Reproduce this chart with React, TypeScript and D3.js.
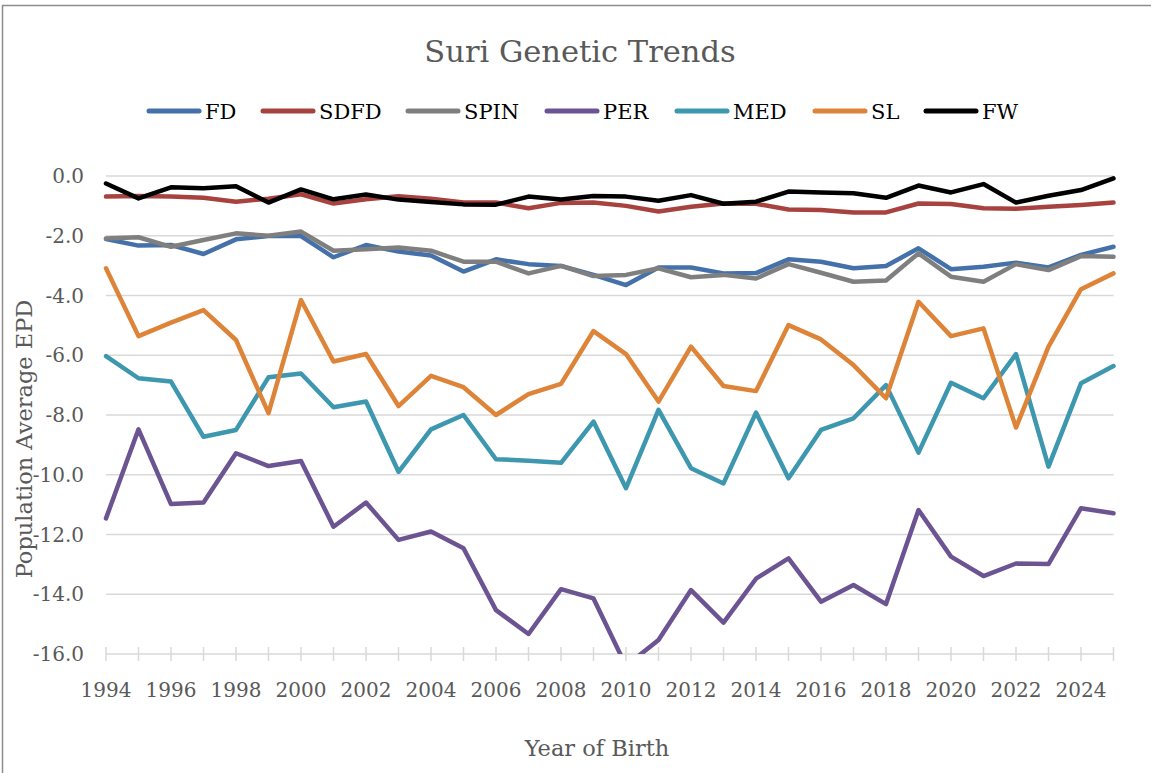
import React from "react";
import * as d3 from "d3";

const years = d3.range(1994, 2026);
const seriesNames = ["FD", "SDFD", "SPIN", "PER", "MED", "SL", "FW"];
const colors = ["#4471A9", "#A8423F", "#7F7F7F", "#6B5491", "#3D97AF", "#DD8438", "#000000"];

const FD = [-2.11, -2.33, -2.31, -2.61, -2.12, -2.01, -2.01, -2.72, -2.31, -2.53, -2.66, -3.2, -2.79, -2.95, -3.01, -3.31, -3.65, -3.06, -3.06, -3.26, -3.25, -2.79, -2.87, -3.09, -3.01, -2.42, -3.12, -3.04, -2.9, -3.06, -2.64, -2.37];
const SDFD = [-0.69, -0.67, -0.69, -0.73, -0.86, -0.76, -0.61, -0.92, -0.78, -0.68, -0.76, -0.89, -0.89, -1.08, -0.9, -0.89, -1.0, -1.19, -1.03, -0.92, -0.93, -1.12, -1.14, -1.22, -1.22, -0.92, -0.94, -1.08, -1.1, -1.03, -0.97, -0.89];
const SPIN = [-2.09, -2.05, -2.37, -2.14, -1.92, -2.0, -1.86, -2.5, -2.45, -2.39, -2.5, -2.87, -2.87, -3.26, -3.01, -3.35, -3.31, -3.09, -3.39, -3.31, -3.43, -2.95, -3.24, -3.54, -3.5, -2.59, -3.37, -3.54, -2.95, -3.15, -2.68, -2.7];
const PER = [-11.46, -8.48, -10.98, -10.93, -9.28, -9.71, -9.54, -11.74, -10.93, -12.18, -11.9, -12.46, -14.53, -15.33, -13.83, -14.14, -16.4, -15.53, -13.86, -14.95, -13.48, -12.8, -14.25, -13.69, -14.33, -11.18, -12.74, -13.39, -12.97, -12.99, -11.12, -11.29];
const MED = [-6.03, -6.77, -6.88, -8.73, -8.5, -6.74, -6.61, -7.74, -7.55, -9.9, -8.48, -8.0, -9.48, -9.53, -9.6, -8.22, -10.45, -7.83, -9.78, -10.29, -7.92, -10.12, -8.5, -8.11, -7.0, -9.26, -6.92, -7.44, -5.96, -9.73, -6.94, -6.36];
const SL = [-3.09, -5.36, -4.91, -4.49, -5.49, -7.94, -4.15, -6.21, -5.96, -7.7, -6.69, -7.07, -8.0, -7.3, -6.96, -5.19, -5.96, -7.55, -5.71, -7.03, -7.2, -4.99, -5.47, -6.33, -7.44, -4.21, -5.36, -5.1, -8.42, -5.71, -3.79, -3.26];
const FW = [-0.25, -0.75, -0.38, -0.41, -0.34, -0.89, -0.45, -0.78, -0.62, -0.79, -0.87, -0.95, -0.96, -0.69, -0.79, -0.67, -0.69, -0.83, -0.64, -0.93, -0.86, -0.52, -0.55, -0.58, -0.73, -0.32, -0.55, -0.27, -0.89, -0.66, -0.47, -0.08];

const seriesValues = [FD, SDFD, SPIN, PER, MED, SL, FW];
const yTicks = [0, -2, -4, -6, -8, -10, -12, -14, -16];
const xLabelYears = years.filter((y) => (y - 1994) % 2 === 0);

const W = 1151;
const H = 773;
const left = 106;
const right = 1113.5;
const top = 176;
const bottom = 654;
const FONT = "'DejaVu Serif', serif";
const TEXT = "#595959";

export default function App() {
  const x = d3.scaleLinear().domain([1994, 2025]).range([left, right]);
  const y = d3.scaleLinear().domain([-16, 0]).range([bottom, top]);
  const line = d3
    .line<number>()
    .x((_, i) => x(years[i]))
    .y((d) => y(d));

  const legendX = [147, 261, 406, 545, 675, 813, 924];

  return (
    <svg width={W} height={H} style={{ position: "absolute", left: 0, top: 0 }}>
      <rect x={0} y={0} width={W} height={H} fill="#fff" />
      <rect x={2.5} y={5.5} width={1170} height={800} fill="none" stroke="#8c8c8c" strokeWidth={1.5} />
      <defs>
        <clipPath id="plotclip">
          <rect x={left - 10} y={top - 10} width={right - left + 20} height={bottom - top + 10} />
        </clipPath>
      </defs>
      <text x={580} y={62} textAnchor="middle" fontFamily={FONT} fontSize={30.5} fill={TEXT}>
        Suri Genetic Trends
      </text>
      {seriesNames.map((n, i) => (
        <g key={n}>
          <line x1={legendX[i] + 2} x2={legendX[i] + 52} y1={111} y2={111} stroke={colors[i]} strokeWidth={5} strokeLinecap="round" />
          <text x={legendX[i] + 58} y={119} fontFamily={FONT} fontSize={21} fill="#000">
            {n}
          </text>
        </g>
      ))}
      {yTicks.map((t) => (
        <g key={t}>
          <line x1={left} x2={right} y1={y(t)} y2={y(t)} stroke="#d9d9d9" strokeWidth={1.5} />
          <text x={84} y={y(t) + 7} textAnchor="end" fontFamily={FONT} fontSize={20} fill={TEXT}>
            {t.toFixed(1)}
          </text>
        </g>
      ))}
      {years.map((yr) => (
        <line key={yr} x1={x(yr)} x2={x(yr)} y1={bottom - 7} y2={bottom + 7} stroke="#d9d9d9" strokeWidth={1.5} />
      ))}
      {xLabelYears.map((yr) => (
        <text key={yr} x={x(yr)} y={697} textAnchor="middle" fontFamily={FONT} fontSize={20} fill={TEXT}>
          {yr}
        </text>
      ))}
      <text x={597} y={756} textAnchor="middle" fontFamily={FONT} fontSize={22.5} fill={TEXT}>
        Year of Birth
      </text>
      <text
        transform={`translate(32,439) rotate(-90)`}
        textAnchor="middle"
        fontFamily={FONT}
        fontSize={22.5}
        fill={TEXT}
      >
        Population Average EPD
      </text>
      <g clipPath="url(#plotclip)">
        {seriesValues.map((vals, i) => (
          <path key={seriesNames[i]} d={line(vals) || ""} fill="none" stroke={colors[i]} strokeWidth={4.5} strokeLinejoin="round" strokeLinecap="round" />
        ))}
      </g>
    </svg>
  );
}
